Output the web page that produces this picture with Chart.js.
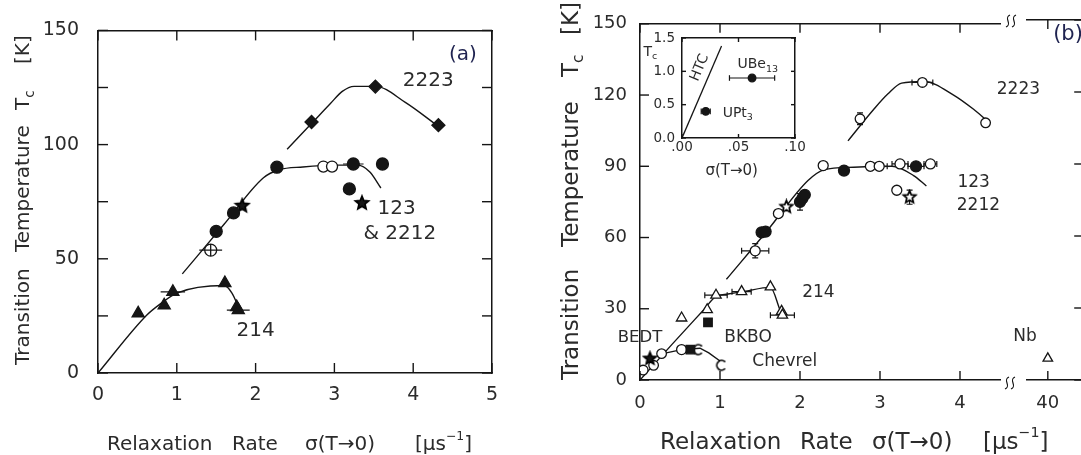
<!DOCTYPE html>
<html lang="en">
<head>
<meta charset="UTF-8">
<title>Tc versus muon relaxation rate</title>
<style>
  body { margin: 0; background: #fff; overflow: hidden; }
  #fig { position: relative; width: 1081px; height: 455px; overflow: hidden; background: #fff; }
  #fig canvas { position: absolute; }
</style>
<script src="https://cdn.jsdelivr.net/npm/chart.js"></script>
</head>
<body>
<div id="fig">
  <canvas id="chartA" width="540" height="455" style="left:0;top:0"></canvas>
  <canvas id="chartB" width="520" height="455" style="left:540px;top:0"></canvas>
  <canvas id="chartB2" width="90" height="455" style="left:1000px;top:0"></canvas>
  <canvas id="inset" width="200" height="180" style="left:620px;top:10px"></canvas>
</div>
<script>
const INK = '#151515';
const TXT = '#2b2b2b';
const FONT = "'DejaVu Sans', sans-serif";

// ---------- panel (a) ----------
const aXTicks = [0, 1, 2, 3, 4, 5];
const aYTicks = [0, 25, 50, 75, 100, 125, 150];
const aYLabels = [0, 50, 100, 150];

const a2223 = [[2.71, 109.9], [3.52, 125.4], [4.32, 108.5]];
const a2223Curve = [[2.40, 98], [2.73, 110], [2.95, 118], [3.1, 123.3], [3.25, 125.5], [3.52, 125.5], [3.9, 118.5], [4.3, 108.5]];
const a123Filled = [[1.50, 62.0], [1.72, 70.1], [2.27, 90.1], [3.24, 91.5], [3.61, 91.5], [3.19, 80.6]];
const a123Open = [[2.86, 90.4], [2.97, 90.4]];
const a123Crossed = [[1.43, 53.8]];
const a123Stars = [[1.83, 73.2], [3.35, 74.4]];
const a123Curve = [[1.07, 43.4], [1.6, 65.1], [2.1, 85.5], [2.3, 89], [2.6, 90.2], [3.0, 91], [3.3, 91], [3.45, 88], [3.59, 81]];
const a214 = [[0.51, 26.1], [0.84, 29.6], [0.95, 35.5], [1.61, 39.4], [1.76, 28.9], [1.78, 27.5]];
const a214Curve = [[0, 0], [0.62, 25.4], [0.8, 30.5], [1.0, 35], [1.6, 38.3], [1.7, 35], [1.8, 27.5]];
const aErrX = [[1.43, 53.8, 0.145], [0.95, 35.5, 0.155], [1.78, 27.5, 0.145], [3.24, 91.5, 0.13]];

// ---------- panel (b) ----------
const bXTicks = [0, 1, 2, 3, 4];
const bYTicks = [0, 30, 60, 90, 120, 150];
const bBreakTicks = [40];

const b2223 = [[2.75, 110], [3.53, 125.3], [4.32, 108.3]];
const b2223Curve = [[2.60, 100.7], [2.92, 113.9], [3.1, 120.5], [3.27, 125], [3.55, 125.7], [3.92, 120], [4.17, 114], [4.32, 109.7]];
const b123Open = [[1.44, 54.4], [1.73, 70.1], [2.29, 90.3], [2.88, 90], [2.99, 90], [3.25, 91], [3.63, 91], [3.21, 79.9]];
const b123Filled = [[1.52, 62.2], [1.57, 62.5], [2.0, 75], [2.03, 76.5], [2.06, 78], [2.55, 88.2], [3.45, 90]];
const b123Stars = [[1.83, 72.9], [3.37, 77]];
const b123Curve = [[1.08, 42.4], [1.6, 63.3], [2.1, 84], [2.3, 88.5], [2.67, 89.6], [3.15, 90], [3.42, 86.1], [3.58, 81.7]];
const b214 = [[0.52, 26.1], [0.84, 29.6], [0.95, 35.7], [1.27, 37.2], [1.63, 39.2], [1.77, 28.9], [1.78, 27.3]];
const b214Curve = [[0, 0], [0.4, 15], [0.8, 29.7], [0.95, 35.2], [1.1, 36.2], [1.3, 37.3], [1.63, 39], [1.75, 29.5]];
const bBedtStar = [[0.125, 9.0]];
const bBedtOpen = [[0.04, 4.2], [0.17, 6.2], [0.27, 11.1]];
const bChevOpen = [[0.52, 12.8]];
const bChevSquare = [[0.63, 12.8]];
const bChevC = [[0.73, 12.8], [1.02, 6.2]];
const bChevCurve = [[0.27, 11], [0.52, 12.8], [0.75, 13.4], [0.86, 11.4], [1.0, 8]];
const bBkbo = [[0.85, 24.3]];
const bNb = [[40, 9]];
const bErrX = [[1.44, 54.4, 0.17], [0.95, 35.7, 0.14], [1.27, 37.2, 0.12], [1.78, 27.3, 0.15], [3.53, 125.3, 0.13],
               [2.99, 90, 0.1], [3.25, 91, 0.1], [3.45, 90, 0.1], [3.63, 91, 0.08]];
const bErrY = [[1.44, 54.4, 3], [2.75, 110, 2.5], [2.0, 75, 3.5], [3.37, 77, 3]];

// ---------- inset ----------
const inXTicks = [0, 0.05, 0.1];
const inYTicks = [0, 0.5, 1, 1.5];
const inHtc = [[0, 0], [0.035, 1.38]];
const inPts = [[0.062, 0.9], [0.021, 0.4]];
const inErrX = [[0.062, 0.9, 0.02], [0.021, 0.4, 0.004]];

// ---------- helpers ----------
const pts = arr => arr.map(p => ({ x: p[0], y: p[1] }));

function xBars(list) {
  const out = [];
  list.forEach(([x, y, e]) => out.push({ x: x - e, y }, { x: x + e, y }, { x: null, y: null }));
  return out;
}
function yBars(list) {
  const out = [];
  list.forEach(([x, y, e]) => out.push({ x, y: y - e }, { x, y: y + e }, { x: null, y: null }));
  return out;
}
const xCaps = list => list.flatMap(([x, y, e]) => [{ x: x - e, y }, { x: x + e, y }]);
const yCaps = list => list.flatMap(([x, y, e]) => [{ x, y: y - e }, { x, y: y + e }]);

function marks(data, style, r, filled, extra) {
  return Object.assign({
    data: pts(data), showLine: false, pointStyle: style, pointRadius: r,
    pointBackgroundColor: filled ? INK : '#fff', pointBorderColor: INK, pointBorderWidth: 1.3, order: 1
  }, extra || {});
}
function curve(data, extra) {
  return Object.assign({
    data: pts(data), showLine: true, pointRadius: 0, borderColor: INK, borderWidth: 1.4,
    cubicInterpolationMode: 'monotone', order: 5
  }, extra || {});
}
function bars(data) {
  return { data, showLine: true, pointRadius: 0, borderColor: INK, borderWidth: 1.2, spanGaps: false, order: 3 };
}
function caps(data, rot, r) {
  return { data, showLine: false, pointStyle: 'line', rotation: rot, pointRadius: r || 3.5,
           pointBorderColor: INK, pointBorderWidth: 1.2, order: 3 };
}

function starImg(r, filled) {
  const c = document.createElement('canvas');
  const s = Math.ceil(2 * r + 4);
  c.width = c.height = s;
  const g = c.getContext('2d');
  g.beginPath();
  for (let i = 0; i < 10; i++) {
    const rr = i % 2 ? r * 0.45 : r;
    const a = -Math.PI / 2 + i * Math.PI / 5;
    g.lineTo(s / 2 + rr * Math.cos(a), s / 2 + rr * Math.sin(a));
  }
  g.closePath();
  g.fillStyle = filled ? INK : '#fff';
  g.fill();
  g.lineWidth = 1.7;
  g.strokeStyle = '#000';
  g.stroke();
  return c;
}
function cImg(r) {
  const c = document.createElement('canvas');
  c.width = c.height = Math.ceil(2 * r + 4);
  const g = c.getContext('2d');
  g.beginPath();
  g.arc(c.width / 2, c.height / 2, r, 0.75, Math.PI * 2 - 0.75);
  g.lineWidth = 1.7;
  g.strokeStyle = '#000';
  g.stroke();
  return c;
}

function linAxis(pos, min, max, tickVals, o) {
  return {
    type: 'linear', position: pos, min, max,
    afterBuildTicks: s => { s.ticks = tickVals.map(v => ({ value: v })); },
    afterFit: s => { if (s.isHorizontal()) s.height = o.size; else s.width = o.size; },
    grid: { display: false, drawTicks: false },
    border: { display: true, color: INK, width: 1.5 },
    ticks: {
      display: !!o.labels, padding: o.pad || 0, color: TXT, autoSkip: false, maxRotation: 0,
      font: { family: FONT, size: o.font || 18 },
      callback: o.labels || (() => '')
    }
  };
}

// text with sub/superscripts: parts = [[text, kind], ...]
function drawRich(ctx, parts, x, y, size, align, color) {
  const seg = parts.map(([t, k]) => {
    const fs = k === 'sub' ? size * 0.68 : k === 'sup' ? size * 0.62 : size;
    const dy = k === 'sub' ? size * 0.32 : k === 'sup' ? -size * 0.42 : 0;
    ctx.font = `${fs}px ${FONT}`;
    return { t, fs, dy, w: ctx.measureText(t).width };
  });
  const total = seg.reduce((a, s) => a + s.w, 0);
  let cx = align === 'center' ? x - total / 2 : align === 'right' ? x - total : x;
  ctx.fillStyle = color || TXT;
  ctx.textAlign = 'left';
  ctx.textBaseline = 'middle';
  seg.forEach(s => {
    ctx.font = `${s.fs}px ${FONT}`;
    ctx.fillText(s.t, cx, y + s.dy);
    cx += s.w;
  });
}

function drawInTicks(chart, len) {
  const { ctx, chartArea: ca } = chart;
  ctx.save();
  ctx.strokeStyle = INK;
  ctx.lineWidth = 1.4;
  Object.values(chart.scales).forEach(s => {
    const pos = s.options.position;
    s.ticks.forEach(t => {
      const p = s.getPixelForValue(t.value);
      ctx.beginPath();
      if (pos === 'bottom') { ctx.moveTo(p, ca.bottom); ctx.lineTo(p, ca.bottom - len); }
      if (pos === 'top') { ctx.moveTo(p, ca.top); ctx.lineTo(p, ca.top + len); }
      if (pos === 'left') { ctx.moveTo(ca.left, p); ctx.lineTo(ca.left + len, p); }
      if (pos === 'right') { ctx.moveTo(ca.right, p); ctx.lineTo(ca.right - len, p); }
      ctx.stroke();
    });
  });
  ctx.restore();
}

function decor(spec) {
  return {
    id: 'decor',
    afterDraw(chart) {
      const ctx = chart.ctx;
      const ox = spec.left || 0, oy = spec.top || 0;
      drawInTicks(chart, spec.tickLen);
      ctx.save();
      (spec.labels || []).forEach(l => {
        const px = chart.scales[l.xs || 'x'].getPixelForValue(l.x);
        const py = chart.scales[l.ys || 'y'].getPixelForValue(l.y);
        ctx.save();
        ctx.translate(px, py);
        if (l.rot) ctx.rotate(l.rot * Math.PI / 180);
        drawRich(ctx, l.p, 0, 0, l.size, l.align || 'center', l.color);
        ctx.restore();
      });
      if (spec.xTitle) {
        spec.xTitle.pieces.forEach(([x, parts]) => drawRich(ctx, parts, x - ox, spec.xTitle.y - oy, spec.xTitle.size, 'left'));
      }
      if (spec.yTitle) {
        spec.yTitle.pieces.forEach(([y, parts]) => {
          ctx.save();
          ctx.translate(spec.yTitle.x - ox, y - oy);
          ctx.rotate(-Math.PI / 2);
          drawRich(ctx, parts, 0, 0, spec.yTitle.size, 'left');
          ctx.restore();
        });
      }
      if (spec.breaks) {
        ctx.strokeStyle = INK;
        ctx.lineWidth = 1.2;
        spec.breaks.forEach(([bx, by]) => {
          [-3, 3].forEach(dx => {
            const x = bx - ox + dx, y = by - oy;
            ctx.beginPath();
            ctx.moveTo(x - 2, y + 6);
            ctx.bezierCurveTo(x + 5, y + 3, x - 5, y - 3, x + 2, y - 6);
            ctx.stroke();
          });
        });
      }
      ctx.restore();
    }
  };
}

const baseOpts = {
  responsive: false, animation: false, events: [], devicePixelRatio: 1,
  plugins: { legend: { display: false }, tooltip: { enabled: false } }
};

// ---------- chart (a) ----------
new Chart(document.getElementById('chartA'), {
  type: 'scatter',
  data: {
    datasets: [
      marks(a123Crossed, 'cross', 6, false, { order: 0 }),
      marks(a2223, 'rectRot', 6.5, true),
      marks(a123Filled, 'circle', 6, true),
      marks(a123Open, 'circle', 5.5, false),
      marks(a123Crossed, 'circle', 6, false),
      marks(a123Stars, starImg(7, true), 7, true),
      marks(a214, 'triangle', 7, true),
      bars(xBars(aErrX)),
      curve(a2223Curve),
      curve(a123Curve),
      curve(a214Curve)
    ]
  },
  options: Object.assign({}, baseOpts, {
    layout: { padding: { left: 0, right: 48, top: 18, bottom: 0 } },
    scales: {
      x: linAxis('bottom', 0, 5, aXTicks, { size: 82, labels: v => String(v), pad: 10.6, font: 19 }),
      x2: linAxis('top', 0, 5, aXTicks, { size: 0 }),
      y: linAxis('left', 0, 150, aYTicks, { size: 98, labels: v => aYLabels.includes(v) ? String(v) : '', pad: 19, font: 19 }),
      y2: linAxis('right', 0, 150, aYTicks, { size: 0 })
    }
  }),
  plugins: [decor({
    tickLen: 10,
    labels: [
      { p: [['2223']], x: 4.19, y: 128.1, size: 20 },
      { p: [['123']], x: 3.79, y: 71.8, size: 20 },
      { p: [['& 2212']], x: 3.83, y: 60.8, size: 20 },
      { p: [['214']], x: 2.0, y: 18.3, size: 20 },
      { p: [['(a)']], x: 4.63, y: 139.4, size: 20, color: '#1f2350' }
    ],
    xTitle: { y: 445, size: 20, pieces: [[107, [['Relaxation']]], [232, [['Rate']]], [305, [['σ(T→0)']]],
                                          [415, [['[μs'], ['−1', 'sup'], [']']]]] },
    yTitle: { x: 24, size: 20, pieces: [[365, [['Transition']]], [252, [['Temperature']]],
                                         [110, [['T'], ['c', 'sub']]], [64, [['[K]']]]] }
  })]
});

// ---------- chart (b), main part ----------
const cMark = cImg(4.8);
new Chart(document.getElementById('chartB'), {
  type: 'scatter',
  data: {
    datasets: [
      marks(b2223, 'circle', 4.8, false),
      marks(b123Open, 'circle', 5, false),
      marks(b123Filled, 'circle', 5.5, true),
      marks(b123Stars, starImg(6.5, false), 6, false),
      marks(b214, 'triangle', 6, false),
      marks(bBedtStar, starImg(6.5, true), 6, true),
      marks(bBedtOpen, 'circle', 4.8, false),
      marks(bChevSquare, 'rect', 6, true, { order: 0 }),
      marks(bChevOpen, 'circle', 5, false),
      marks(bChevC, cMark, 5, false),
      marks(bBkbo, 'rect', 6, true),
      bars(xBars(bErrX)),
      bars(yBars(bErrY)),
      caps(xCaps(bErrX), 90, 3),
      caps(yCaps(bErrY), 0, 3),
      curve(b2223Curve),
      curve(b123Curve),
      curve(b214Curve),
      curve(bChevCurve, { cubicInterpolationMode: 'default', tension: 0 })
    ]
  },
  options: Object.assign({}, baseOpts, {
    layout: { padding: { left: 0, right: 60, top: 20, bottom: 0 } },
    scales: {
      x: linAxis('bottom', 0, 4.5, bXTicks, { size: 75, labels: v => String(v), pad: 12.2, font: 18 }),
      x2: linAxis('top', 0, 4.5, bXTicks, { size: 0 }),
      y: linAxis('left', 0, 150, bYTicks, { size: 100, labels: v => String(v), pad: 13, font: 18 })
    }
  }),
  plugins: [decor({
    tickLen: 9, left: 540,
    labels: [
      { p: [['2223']], x: 4.73, y: 122.2, size: 17 },
      { p: [['123']], x: 4.17, y: 83.3, size: 17 },
      { p: [['2212']], x: 4.23, y: 73.6, size: 17 },
      { p: [['214']], x: 2.23, y: 36.8, size: 17 },
      { p: [['BEDT']], x: 0, y: 18, size: 16.5 },
      { p: [['BKBO']], x: 1.35, y: 18, size: 17 },
      { p: [['Chevrel']], x: 1.81, y: 7.6, size: 17 }
    ],
    xTitle: { y: 443, size: 23, pieces: [[660, [['Relaxation']]], [800, [['Rate']]], [872, [['σ(T→0)']]],
                                          [983, [['[μs'], ['−1', 'sup'], [']']]]] },
    yTitle: { x: 572, size: 23, pieces: [[380, [['Transition']]], [247, [['Temperature']]],
                                         [77, [['T'], ['c', 'sub']]], [35, [['[K]']]]] },
    breaks: [[1011, 21], [1010, 383]]
  })]
});

// ---------- chart (b), beyond the axis break ----------
new Chart(document.getElementById('chartB2'), {
  type: 'scatter',
  data: { datasets: [marks(bNb, 'triangle', 5.5, false)] },
  options: Object.assign({}, baseOpts, {
    layout: { padding: { left: 27, right: 6, top: 20, bottom: 0 } },
    scales: {
      x: linAxis('bottom', 39, 41.7, bBreakTicks, { size: 75, labels: v => String(v), pad: 12.2, font: 18 }),
      x2: linAxis('top', 39, 41.7, bBreakTicks, { size: 0 }),
      y: linAxis('right', 0, 150, bYTicks, { size: 0 })
    }
  }),
  plugins: [decor({
    tickLen: 9,
    labels: [
      { p: [['Nb']], x: 38.9, y: 17.9, size: 17 },
      { p: [['(b)']], x: 40.97, y: 143.75, size: 21, color: '#1f2350' }
    ]
  })]
});

// ---------- inset ----------
new Chart(document.getElementById('inset'), {
  type: 'scatter',
  data: {
    datasets: [
      marks(inPts, 'circle', 3.8, true),
      bars(xBars(inErrX)),
      caps(xCaps(inErrX), 90, 2.8),
      curve(inHtc, { cubicInterpolationMode: 'default', tension: 0, borderWidth: 1.3 })
    ]
  },
  options: Object.assign({}, baseOpts, {
    layout: { padding: { left: 0, right: 25, top: 28, bottom: 0 } },
    scales: {
      x: linAxis('bottom', 0, 0.1, inXTicks, { size: 52, labels: v => v.toFixed(2).replace(/^0/, ''), pad: 1.6, font: 13.5 }),
      x2: linAxis('top', 0, 0.1, inXTicks, { size: 0 }),
      y: linAxis('left', 0, 1.5, inYTicks, { size: 62, labels: v => v.toFixed(1), pad: 7, font: 13.5 }),
      y2: linAxis('right', 0, 1.5, inYTicks, { size: 0 })
    }
  }),
  plugins: [decor({
    tickLen: 4,
    labels: [
      { p: [['HTC']], x: 0.0157, y: 1.054, size: 14, rot: -67.6 },
      { p: [['UBe'], ['13', 'sub']], x: 0.067, y: 1.10, size: 14 },
      { p: [['UPt'], ['3', 'sub']], x: 0.036, y: 0.375, size: 14, align: 'left' },
      { p: [['T'], ['c', 'sub']], x: -0.028, y: 1.29, size: 14 },
      { p: [['σ(T→0)']], x: 0.044, y: -0.5, size: 15 }
    ]
  })]
});
</script>
</body>
</html>
